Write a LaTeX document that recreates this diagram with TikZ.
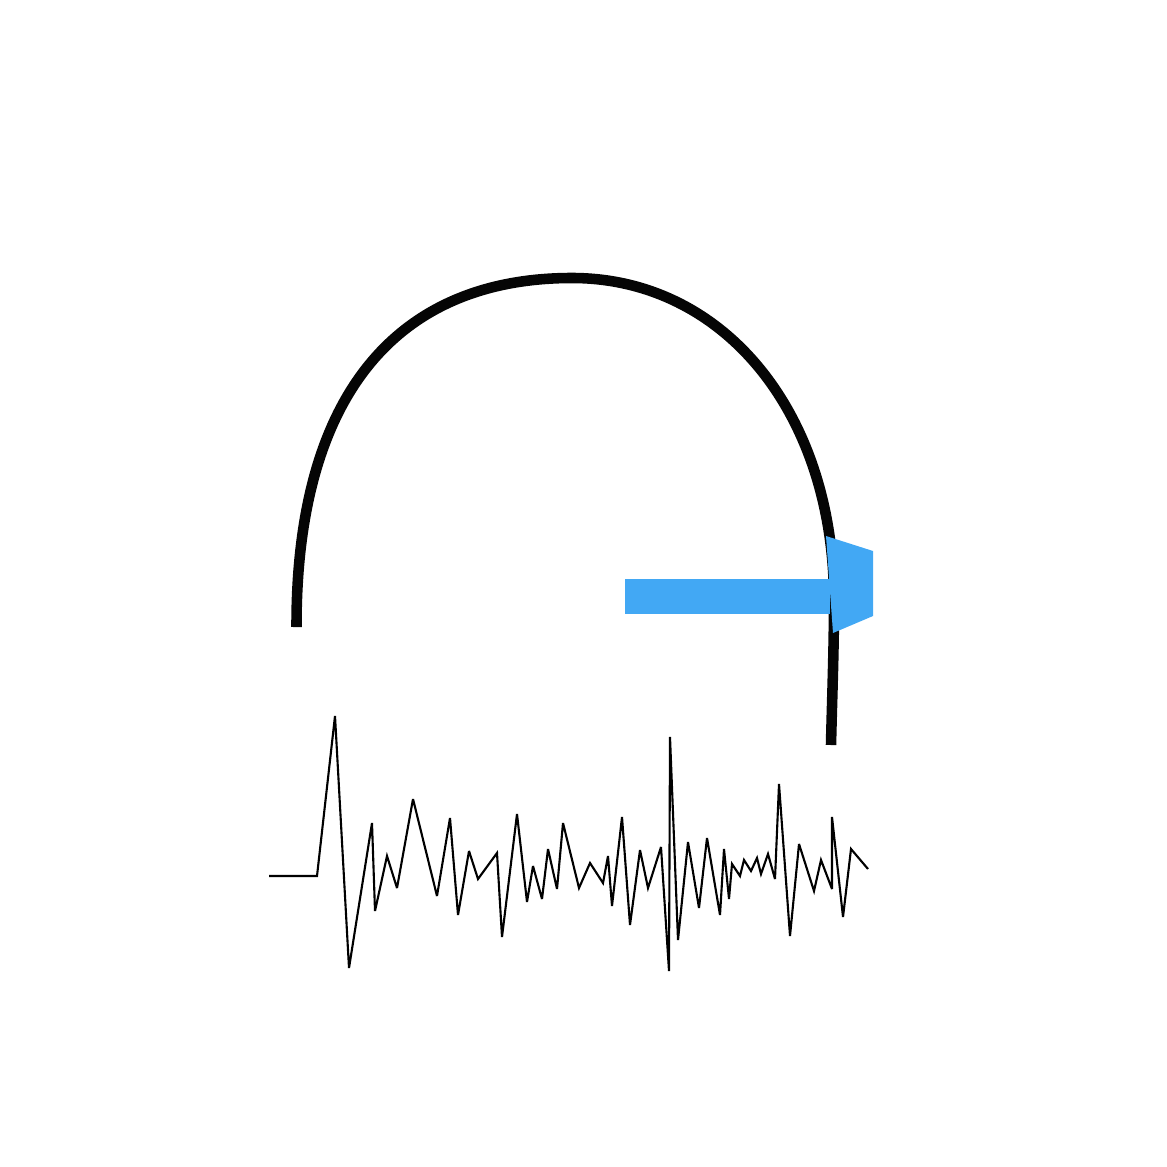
\documentclass[tikz,border=0pt]{standalone}
\usepackage{tikz}
\usetikzlibrary{arrows.meta, calc}
\definecolor{flechablue}{HTML}{42A8F4}
\definecolor{trazonegro}{HTML}{050505}

\begin{document}
\begin{tikzpicture}[x=0.01cm, y=-0.01cm,
    arco/.style={line width=3pt, trazonegro, line cap=butt},
    senal/.style={line width=0.6pt, black, line join=miter, miter limit=4},
    flecha/.style={fill=flechablue, draw=none}]
          \useasboundingbox (0,0) rectangle (1167,1167);

          % Arco superior (trazo grueso)
          \draw[arco] (296.5,627) .. controls (296,400) and (393,278) .. (572,278)
                      .. controls (724,278) and (834,413) .. (834,600)
                      .. controls (834,650) and (832,700) .. (831,745);

          % Flecha azul: cuerpo
          \coordinate (colaFlecha) at (625,596.5);
          \coordinate (baseFlecha) at (830,596.5);
          \draw[flechablue, line width=9.96pt] (colaFlecha) -- (baseFlecha);
          % Flecha azul: punta (recortada en el borde)
          \fill[flecha] (826,536) -- (873,551) -- (873,616) -- (833,633) -- cycle;

          % Senal ruidosa inferior
          \draw[senal] (269,876) -- (317,876) -- (335,716) -- (349,968) -- (372,823)
            -- (375,911) -- (387,856) -- (397,888) -- (413,799) -- (437,896)
            -- (450,818) -- (458,915) -- (469,851) -- (478,879) -- (497,853)
            -- (502,937) -- (517,814) -- (527,902) -- (533,866) -- (542,899)
            -- (548,849) -- (557,889) -- (563,823) -- (579,888) -- (590,863)
            -- (603,883) -- (608,856) -- (612,906) -- (622,817) -- (630,925)
            -- (640,850) -- (648,888) -- (661,847) -- (669,971) -- (670,737)
            -- (678,940) -- (688,842) -- (699,908) -- (707,838) -- (720,915)
            -- (724,849) -- (729,899) -- (732,864) -- (740,876) -- (744,860)
            -- (751,871) -- (757,858) -- (761,874) -- (768,854) -- (775,879)
            -- (779,784) -- (790,936) -- (799,844) -- (814,891) -- (821,860)
            -- (832,889) -- (832,817) -- (843,917) -- (851,849) -- (868,869);
        \end{tikzpicture}
\end{document}
